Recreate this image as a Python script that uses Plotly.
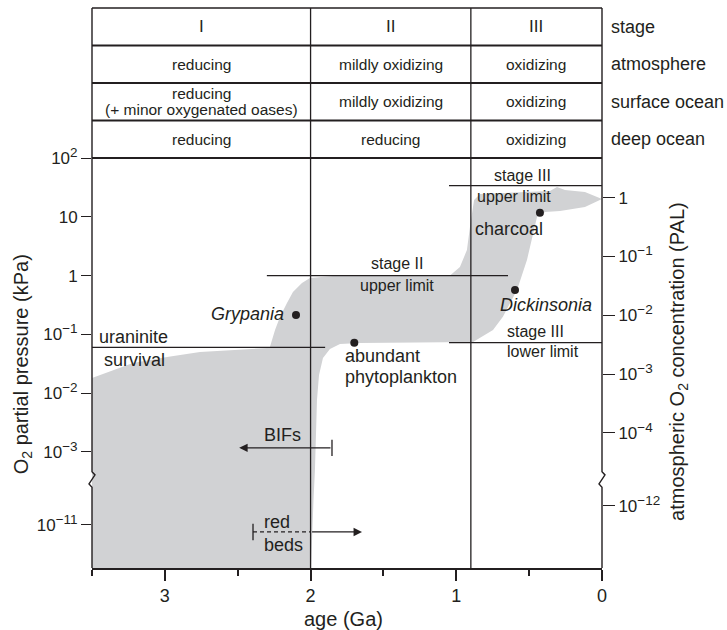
import math
import plotly.graph_objects as go

FONT = "Liberation Sans, Arial, Helvetica, sans-serif"
INK = "#231f20"
GRAY = "#d1d2d4"

# ---------------- data ----------------
# O2 partial-pressure axis (log10 kPa) with a break between 10^-3.46 and 10^-10.22
BREAK_LOG = -3.46
LOWER_SHIFT = 6.76
AXIS_BOTTOM_LOG = -11.733
TABLE_TOP = 4.551          # display units (top of the stage table)

age_ticks = [3, 2, 1, 0]
age_minor_ticks = [3.5, 2.5, 1.5, 0.5]

kpa_tick_logs = [2, 1, 0, -1, -2, -3, -11]
kpa_tick_exp = ["2", None, None, "−1", "−2", "−3", "−11"]

PAL_KPA = 21.2
pal_tick_logs = [0, -1, -2, -3, -4, -12]
pal_tick_exp = [None, "−1", "−2", "−3", "−4", "−12"]

stage_bounds = [3.5, 2.0, 0.9, 0.0]
table_rows = ["stage", "atmosphere", "surface ocean", "deep ocean"]
table_cells = [
    ["I", "II", "III"],
    ["reducing", "mildly oxidizing", "oxidizing"],
    ["reducing\n(+ minor oxygenated oases)", "mildly oxidizing", "oxidizing"],
    ["reducing", "reducing", "oxidizing"],
]

# grey envelope of atmospheric O2 (age Ga, log10 kPa)
env_age = [3.5, 1.997, 1.98, 1.97, 1.956, 1.942, 1.915, 1.867, 1.798, 1.66, 0.885,
           0.748, 0.68, 0.583, 0.515, 0.48, 0.446, 0.39, 0.288, 0.117, 0.007, 0.0,
           0.117, 0.254, 0.309, 0.357, 0.837, 0.878, 0.906, 0.927, 0.975, 1.043,
           1.846, 2.004, 2.059, 2.121, 2.162, 2.21, 2.244, 2.279, 2.299, 2.532,
           2.759, 2.985, 3.219, 3.5]
env_logp = [-11.733, -11.733, -10.58, -3.31, -2.116, -1.69, -1.40, -1.25, -1.163, -1.146, -1.13,
            -0.925, -0.70, -0.245, 0.265, 0.656, 0.997, 1.08, 1.10, 1.167, 1.286, 1.303,
            1.422, 1.456, 1.507, 1.439, 1.388, 1.286, 0.827, 0.435, 0.146, 0.002,
            -0.007, -0.041, -0.126, -0.279, -0.466, -0.704, -0.925, -1.214, -1.231, -1.265,
            -1.299, -1.384, -1.486, -1.741]

# constraint lines: (age start, age end, log10 kPa)
limit_lines = [
    (3.5, 1.90, -1.22),    # uraninite survival
    (2.30, 0.645, 0.0),    # stage II upper limit
    (1.05, 0.0, 1.53),     # stage III upper limit
    (1.05, 0.0, -1.14),    # stage III lower limit
]

# fossil / geological markers (age Ga, log10 kPa)
marker_names = ["Grypania", "abundant phytoplankton", "Dickinsonia", "charcoal"]
marker_age = [2.10, 1.70, 0.597, 0.426]
marker_logp = [-0.67, -1.141, -0.245, 1.07]

# BIFs: tick at 1.85 Ga, arrow towards older ages
bif_range = [1.853, 2.49]
bif_logp = -2.93
# red beds: tick at 2.4 Ga, dashed to 2.0 Ga, arrow towards younger ages
redbed_range = [2.395, 2.0, 1.647]
redbed_logp = -11.12


def to_u(logp):
    return logp if logp >= BREAK_LOG else logp + LOWER_SHIFT


def pow_label(log_val, exp):
    if exp is None:
        return "1" if log_val == 0 else "10"
    return f"10<sup><span style='font-size:13.5px'>{exp}</span></sup>"


Y_MIN = to_u(AXIS_BOTTOM_LOG)
Y_MAX = TABLE_TOP
ROW_H = (Y_MAX - 2.0) / 4


def pap_y(u):
    return (u - Y_MIN) / (Y_MAX - Y_MIN)


fig = go.Figure()

fig.add_trace(go.Scatter(
    x=env_age, y=[to_u(v) for v in env_logp], mode="lines", fill="toself",
    fillcolor=GRAY, line=dict(width=0, color=GRAY), hoverinfo="skip", showlegend=False))

fig.add_trace(go.Scatter(
    x=marker_age, y=[to_u(v) for v in marker_logp], mode="markers",
    marker=dict(size=8, color=INK), hoverinfo="skip", showlegend=False))

# invisible trace to bring the right-hand axis to life
fig.add_trace(go.Scatter(x=[1.0], y=[0.0], yaxis="y2", mode="markers",
                         marker=dict(opacity=0), hoverinfo="skip", showlegend=False))

shapes = []
# frame top
shapes.append(dict(type="line", xref="paper", yref="paper", x0=0, x1=1, y0=1, y1=1,
                   line=dict(color=INK, width=1.5)))
# left/right frame with break zigzag
zz = [(-3.60, 0), (-3.544, -1), (-3.39, 1), (-3.335, 0)]
dx = 3.0 / 510
for xp in (0.0, 1.0):
    pts = [(xp, 0.0)] + [(xp + s * dx, pap_y(u)) for u, s in zz] + [(xp, 1.0)]
    path = "M " + " L ".join(f"{a:.5f},{b:.5f}" for a, b in pts)
    shapes.append(dict(type="path", xref="paper", yref="paper", path=path,
                       line=dict(color=INK, width=1.4)))
# table horizontal lines
for i in range(4):
    shapes.append(dict(type="line", xref="paper", yref="y", x0=0, x1=1,
                       y0=2.0 + i * ROW_H, y1=2.0 + i * ROW_H,
                       line=dict(color=INK, width=1.8)))
# stage boundaries
for b in stage_bounds[1:-1]:
    shapes.append(dict(type="line", xref="x", yref="paper", x0=b, x1=b, y0=0, y1=1,
                       line=dict(color=INK, width=1.3)))
# constraint lines
for a0, a1, lp in limit_lines:
    shapes.append(dict(type="line", xref="x", yref="y", x0=a0, x1=a1,
                       y0=to_u(lp), y1=to_u(lp), line=dict(color=INK, width=1.3)))
# BIF tick bar
shapes.append(dict(type="line", xref="x", yref="y", x0=bif_range[0], x1=bif_range[0],
                   y0=to_u(bif_logp) - 0.14, y1=to_u(bif_logp) + 0.14,
                   line=dict(color=INK, width=1.3)))
# red beds tick bar + dashed part
shapes.append(dict(type="line", xref="x", yref="y", x0=redbed_range[0], x1=redbed_range[0],
                   y0=to_u(redbed_logp) - 0.14, y1=to_u(redbed_logp) + 0.14,
                   line=dict(color=INK, width=1.3)))
shapes.append(dict(type="line", xref="x", yref="y", x0=redbed_range[0], x1=redbed_range[1],
                   y0=to_u(redbed_logp), y1=to_u(redbed_logp),
                   line=dict(color=INK, width=1.3, dash="4px,3px")))

ann = []


def txt(text, x, y, size=16, xanchor="center", italic=False, xref="x", yref="y", angle=0):
    if italic:
        text = f"<i>{text}</i>"
    ann.append(dict(text=text, x=x, y=y, xref=xref, yref=yref, showarrow=False,
                    xanchor=xanchor, yanchor="middle", textangle=angle,
                    font=dict(family=FONT, size=size, color=INK)))


# table text
for r, (row_name, cells) in enumerate(zip(table_rows, table_cells)):
    yc = Y_MAX - (r + 0.5) * ROW_H
    for c, cell in enumerate(cells):
        xc = (stage_bounds[c] + stage_bounds[c + 1]) / 2
        lines = cell.split("\n")
        n = len(lines)
        for k, line in enumerate(lines):
            off = ((n - 1) / 2 - k) * 0.28
            txt(line, xc, yc + off, size=17 if r == 0 else 15.5)
    txt(row_name, 1.0135, yc, size=18, xanchor="left", xref="paper")

# annotation labels
txt("uraninite", 3.466, -1.044, size=18, xanchor="left")
txt("survival", 3.431, -1.435, size=18, xanchor="left")
txt("Grypania", 2.169, -0.653, size=18, xanchor="right", italic=True)
txt("stage II", 1.407, 0.214)
txt("upper limit", 1.407, -0.16)
txt("abundant", 1.778, -1.367, size=18, xanchor="left")
txt("phytoplankton", 1.778, -1.724, size=18, xanchor="left")
txt("stage III", 0.549, 1.694)
txt("upper limit", 0.604, 1.337)
txt("charcoal", 0.635, 0.793, size=18)
txt("Dickinsonia", 0.384, -0.50, size=18, italic=True)
txt("stage III", 0.453, -0.959)
txt("lower limit", 0.405, -1.299)
txt("BIFs", 2.196, to_u(bif_logp) + 0.22, size=18)
txt("red", 2.333, to_u(redbed_logp) + 0.17, size=18, xanchor="left")
txt("beds", 2.333, to_u(redbed_logp) - 0.22, size=18, xanchor="left")

# arrows
ann.append(dict(x=bif_range[1], y=to_u(bif_logp), ax=bif_range[0], ay=to_u(bif_logp),
                xref="x", yref="y", axref="x", ayref="y", text="", showarrow=True,
                arrowhead=2, arrowsize=1.3, arrowwidth=1.3, arrowcolor=INK, standoff=0))
ann.append(dict(x=redbed_range[2], y=to_u(redbed_logp), ax=redbed_range[1], ay=to_u(redbed_logp),
                xref="x", yref="y", axref="x", ayref="y", text="", showarrow=True,
                arrowhead=2, arrowsize=1.3, arrowwidth=1.3, arrowcolor=INK, standoff=0))

# axis titles
txt("O<sub>2</sub> partial pressure (kPa)", -0.137, 0.364, size=20,
    xref="paper", yref="paper", angle=-90)
txt("atmospheric O<sub>2</sub> concentration (PAL)", 1.151, 0.368, size=20,
    xref="paper", yref="paper", angle=-90)
txt("age (Ga)", 0.494, -0.091, size=20, xref="paper", yref="paper")

fig.update_layout(
    width=727, height=630,
    margin=dict(l=92, r=125, t=8, b=62),
    paper_bgcolor="white", plot_bgcolor="white",
    font=dict(family=FONT, color=INK),
    showlegend=False,
    shapes=shapes, annotations=ann,
    xaxis=dict(range=[3.5, 0], showgrid=False, zeroline=False, showline=True,
               linecolor=INK, linewidth=1.5, ticks="outside", ticklen=11, tickwidth=1.5,
               tickcolor=INK, tickvals=age_ticks, ticktext=[str(t) for t in age_ticks],
               tickfont=dict(size=18, color=INK),
               minor=dict(tickvals=age_minor_ticks, ticks="outside", ticklen=6,
                          tickwidth=1.5, tickcolor=INK, showgrid=False)),
    yaxis=dict(range=[Y_MIN, Y_MAX], showgrid=False, zeroline=False, showline=False,
               ticks="outside", ticklen=10, tickwidth=1.4, tickcolor=INK,
               tickvals=[to_u(v) for v in kpa_tick_logs],
               ticktext=[pow_label(v, e) for v, e in zip(kpa_tick_logs, kpa_tick_exp)],
               tickfont=dict(size=17, color=INK)),
    yaxis2=dict(range=[Y_MIN, Y_MAX], overlaying="y", side="right", showgrid=False,
                zeroline=False, showline=False, ticks="outside", ticklen=12, tickwidth=1.4,
                tickcolor=INK,
                tickvals=[to_u(math.log10(PAL_KPA) + v) for v in pal_tick_logs],
                ticktext=[pow_label(v, e) for v, e in zip(pal_tick_logs, pal_tick_exp)],
                tickfont=dict(size=17, color=INK)),
)

fig.write_html("out.html", config={"displayModeBar": False},
               post_script="document.body.style.margin='0';")
